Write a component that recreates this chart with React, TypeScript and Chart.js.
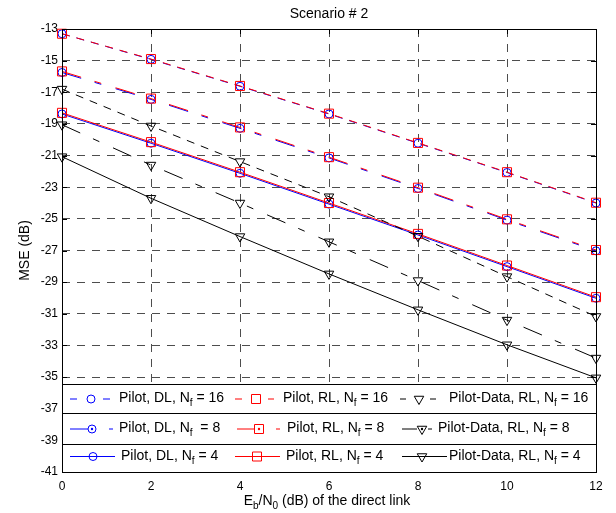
import React, { useEffect, useRef } from "react";
import { Chart, registerables } from "chart.js";

Chart.register(...registerables);

// ---- data ----
const SNR_DB = [0, 2, 4, 6, 8, 10, 12];
const Y_TICKS = [-41, -39, -37, -35, -33, -31, -29, -27, -25, -23, -21, -19, -17, -15, -13];
const X_TICKS = [0, 2, 4, 6, 8, 10, 12];

const PILOT_DL_NF16 = [-13.3, -14.92, -16.62, -18.37, -20.22, -22.07, -24.0];
const PILOT_RL_NF16 = [-13.3, -14.9, -16.6, -18.35, -20.2, -22.05, -23.98];
const PILOT_DL_NF8 = [-15.75, -17.45, -19.28, -21.15, -23.08, -25.08, -27.02];
const PILOT_RL_NF8 = [-15.68, -17.4, -19.22, -21.1, -23.03, -25.03, -26.97];
const PILOT_DL_NF4 = [-18.37, -20.22, -22.12, -24.07, -26.02, -28.02, -30.02];
const PILOT_RL_NF4 = [-18.3, -20.15, -22.05, -24.0, -25.95, -27.95, -29.95];
const PD_RL_NF16 = [-16.8, -19.13, -21.38, -23.6, -26.1, -28.65, -31.17];
const PD_RL_NF8 = [-19.05, -21.6, -24.0, -26.45, -28.9, -31.4, -33.8];
const PD_RL_NF4 = [-21.07, -23.7, -26.12, -28.48, -30.75, -32.96, -35.05];

const TITLE = "Scenario # 2";
const Y_TITLE = "MSE (dB)";

const FONT = '"Liberation Sans", Arial, Helvetica, sans-serif';
const BLUE = "#0000ff";
const RED = "#ff0000";
const BLACK = "#000000";
const DASH16 = [8, 7];
const DASH8 = [20, 14, 7, 15];

type Part = { t: string; sub?: boolean };

function richWidth(ctx: CanvasRenderingContext2D, parts: Part[], size: number, subSize: number) {
  let w = 0;
  for (const p of parts) {
    ctx.font = `${p.sub ? subSize : size}px ${FONT}`;
    w += ctx.measureText(p.t).width;
  }
  return w;
}

function drawRich(ctx: CanvasRenderingContext2D, parts: Part[], x: number, y: number, size = 12, subSize = 9, subOff = 4) {
  ctx.save();
  ctx.fillStyle = "#000";
  ctx.textBaseline = "alphabetic";
  ctx.textAlign = "left";
  let cx = x;
  for (const p of parts) {
    ctx.font = `${p.sub ? subSize : size}px ${FONT}`;
    ctx.fillText(p.t, cx, p.sub ? y + subOff : y);
    cx += ctx.measureText(p.t).width;
  }
  ctx.restore();
}

function drawMarker(ctx: CanvasRenderingContext2D, kind: string, x: number, y: number, color: string, dot: boolean) {
  ctx.save();
  ctx.strokeStyle = color;
  ctx.lineWidth = 1;
  ctx.setLineDash([]);
  ctx.beginPath();
  if (kind === "circle") {
    ctx.arc(x, y, 4, 0, Math.PI * 2);
  } else if (kind === "rect") {
    ctx.rect(x - 4.5, y - 4.5, 9, 9);
  } else {
    const r = 5.5;
    for (let i = 0; i < 3; i++) {
      const a = Math.PI + (i * 2 * Math.PI) / 3;
      const px = x + Math.sin(a) * r;
      const py = y - Math.cos(a) * r;
      if (i === 0) ctx.moveTo(px, py);
      else ctx.lineTo(px, py);
    }
    ctx.closePath();
  }
  ctx.stroke();
  if (dot) {
    ctx.fillStyle = color;
    ctx.beginPath();
    ctx.arc(x, y, 1.2, 0, Math.PI * 2);
    ctx.fill();
  }
  ctx.restore();
}

type LegendItem = {
  segs: [number, number][];
  mx: number;
  marker: string;
  color: string;
  dot: boolean;
  tx: number;
  text: Part[];
};

const nf = (pre: string, post: string): Part[] => [{ t: pre }, { t: "f", sub: true }, { t: post }];

const LEGEND_ROWS: { top: number; bottom: number; base: number; lineY: number; items: LegendItem[] }[] = [
  {
    top: 384, bottom: 413, base: 402, lineY: 398.5,
    items: [
      { segs: [[70, 77], [103, 110]], mx: 91, marker: "circle", color: BLUE, dot: false, tx: 119, text: nf("Pilot, DL, N", " = 16") },
      { segs: [[235, 242], [268, 274]], mx: 256, marker: "rect", color: RED, dot: false, tx: 283, text: nf("Pilot, RL, N", " = 16") },
      { segs: [[400, 406], [430, 436]], mx: 419, marker: "tri", color: BLACK, dot: false, tx: 449, text: nf("Pilot-Data, RL, N", " = 16") },
    ],
  },
  {
    top: 413, bottom: 444, base: 432, lineY: 428.5,
    items: [
      { segs: [[70, 88], [109, 113]], mx: 92, marker: "circle", color: BLUE, dot: true, tx: 119, text: nf("Pilot, DL, N", "  = 8") },
      { segs: [[237, 255], [276, 280]], mx: 259, marker: "rect", color: RED, dot: true, tx: 287, text: nf("Pilot, RL, N", " = 8") },
      { segs: [[402, 417], [428, 432]], mx: 422, marker: "tri", color: BLACK, dot: true, tx: 438, text: nf("Pilot-Data, RL, N", " = 8") },
    ],
  },
  {
    top: 444, bottom: 472, base: 460, lineY: 456,
    items: [
      { segs: [[70, 115]], mx: 93, marker: "circle", color: BLUE, dot: false, tx: 121, text: nf("Pilot, DL, N", " = 4") },
      { segs: [[235, 280]], mx: 257, marker: "rect", color: RED, dot: false, tx: 286, text: nf("Pilot, RL, N", " = 4") },
      { segs: [[402, 447]], mx: 422, marker: "tri", color: BLACK, dot: false, tx: 449, text: nf("Pilot-Data, RL, N", " = 4") },
    ],
  },
];

const decorPlugin = {
  id: "decor",
  afterDatasetsDraw(chart: any) {
    const ctx: CanvasRenderingContext2D = chart.ctx;
    const a = chart.chartArea;
    const xs = chart.scales.x;
    const ys = chart.scales.y;
    ctx.save();
    ctx.strokeStyle = "#000";
    ctx.lineWidth = 1;
    ctx.setLineDash([]);
    // inward tick marks
    ctx.beginPath();
    for (const v of Y_TICKS) {
      const py = Math.round(ys.getPixelForValue(v)) + 0.5;
      ctx.moveTo(a.left, py);
      ctx.lineTo(a.left + 5, py);
      ctx.moveTo(a.right, py);
      ctx.lineTo(a.right - 5, py);
    }
    for (const v of X_TICKS) {
      const px = Math.round(xs.getPixelForValue(v)) + 0.5;
      ctx.moveTo(px, a.top);
      ctx.lineTo(px, a.top + 5);
      ctx.moveTo(px, a.bottom);
      ctx.lineTo(px, a.bottom - 5);
    }
    ctx.stroke();

    // legend
    const L = Math.round(a.left) + 0.5;
    const R = Math.round(a.right) + 0.5;
    for (const row of LEGEND_ROWS) {
      ctx.fillStyle = "#fff";
      ctx.fillRect(L, row.top, R - L, row.bottom - row.top);
      ctx.strokeStyle = "#000";
      ctx.lineWidth = 1;
      ctx.setLineDash([]);
      ctx.strokeRect(L, row.top + 0.5, R - L, row.bottom - row.top);
      for (const it of row.items) {
        ctx.strokeStyle = it.color;
        ctx.beginPath();
        for (const [s, e] of it.segs) {
          ctx.moveTo(s, row.lineY + 0.5);
          ctx.lineTo(e, row.lineY + 0.5);
        }
        ctx.stroke();
        drawMarker(ctx, it.marker, it.mx, row.lineY + 0.5, it.color, it.dot);
        drawRich(ctx, it.text, it.tx, row.base, 14, 10, 4);
      }
    }

    // frame
    ctx.strokeStyle = "#000";
    ctx.lineWidth = 1;
    ctx.strokeRect(L, Math.round(a.top) + 0.5, R - L, Math.round(a.bottom) - Math.round(a.top));
    ctx.restore();

    // titles
    ctx.save();
    ctx.fillStyle = "#000";
    ctx.font = `14px ${FONT}`;
    ctx.textAlign = "center";
    ctx.textBaseline = "alphabetic";
    ctx.fillText(TITLE, (a.left + a.right) / 2, 18);
    ctx.translate(29, (a.top + a.bottom) / 2);
    ctx.rotate(-Math.PI / 2);
    ctx.fillText(Y_TITLE, 0, 0);
    ctx.restore();

    const xt: Part[] = [{ t: "E" }, { t: "b", sub: true }, { t: "/N" }, { t: "0", sub: true }, { t: " (dB) of the direct link" }];
    const w = richWidth(ctx, xt, 14, 10);
    drawRich(ctx, xt, (a.left + a.right) / 2 - w / 2 - 2, 505, 14, 10, 4);
  },
};

function mk(label: string, vals: number[], color: string, dash: number[], style: string, radius: number) {
  return {
    label,
    data: SNR_DB.map((x, i) => ({ x, y: vals[i] })),
    borderColor: color,
    backgroundColor: "rgba(0,0,0,0)",
    borderWidth: 1,
    borderDash: dash,
    pointStyle: style,
    pointRadius: radius,
    pointHoverRadius: radius,
    pointBorderColor: color,
    pointBackgroundColor: "rgba(0,0,0,0)",
    pointBorderWidth: 1,
    pointRotation: style === "triangle" ? 180 : 0,
    tension: 0,
    fill: false,
    clip: false as any,
  };
}

export default function App() {
  const ref = useRef<HTMLCanvasElement | null>(null);
  useEffect(() => {
    if (!ref.current) return;
    const chart = new Chart(ref.current, {
      type: "line",
      data: {
        datasets: [
          mk("Pilot-Data, RL, Nf = 4", PD_RL_NF4, BLACK, [], "triangle", 5.5),
          mk("Pilot-Data, RL, Nf = 8", PD_RL_NF8, BLACK, DASH8, "triangle", 5.5),
          mk("Pilot-Data, RL, Nf = 16", PD_RL_NF16, BLACK, DASH16, "triangle", 5.5),
          mk("Pilot, RL, Nf = 4", PILOT_RL_NF4, RED, [], "rect", 6.4),
          mk("Pilot, RL, Nf = 8", PILOT_RL_NF8, RED, DASH8, "rect", 6.4),
          mk("Pilot, RL, Nf = 16", PILOT_RL_NF16, RED, DASH16, "rect", 6.4),
          mk("Pilot, DL, Nf = 4", PILOT_DL_NF4, BLUE, [], "circle", 4),
          mk("Pilot, DL, Nf = 8", PILOT_DL_NF8, BLUE, DASH8, "circle", 4),
          mk("Pilot, DL, Nf = 16", PILOT_DL_NF16, BLUE, DASH16, "circle", 4),
        ] as any,
      },
      options: {
        responsive: false,
        animation: false,
        events: [],
        layout: { padding: { left: 0, right: 20, top: 29, bottom: 0 } },
        plugins: { legend: { display: false }, tooltip: { enabled: false }, title: { display: false } },
        scales: {
          x: {
            type: "linear",
            min: 0,
            max: 12,
            afterFit: (s: any) => { s.height = 41; },
            afterBuildTicks: (s: any) => { s.ticks = X_TICKS.map((v) => ({ value: v })); },
            ticks: { color: "#000", font: { family: FONT, size: 12 }, padding: 7, maxRotation: 0, autoSkip: false },
            grid: { color: "#4d4d4d", lineWidth: 1, drawTicks: false },
            border: { display: false, dash: [8, 7] },
          },
          y: {
            type: "linear",
            min: -41,
            max: -13,
            afterFit: (s: any) => { s.width = 62; },
            afterBuildTicks: (s: any) => { s.ticks = Y_TICKS.map((v) => ({ value: v })); },
            ticks: { color: "#000", font: { family: FONT, size: 12 }, padding: 4, autoSkip: false },
            grid: { color: "#4d4d4d", lineWidth: 1, drawTicks: false },
            border: { display: false, dash: [8, 7] },
          },
        },
      },
      plugins: [decorPlugin],
    });
    return () => chart.destroy();
  }, []);
  return (
    <div style={{ position: "fixed", left: 0, top: 0, width: 616, height: 513, background: "#fff" }}>
      <canvas ref={ref} width={616} height={513} style={{ display: "block" }} />
    </div>
  );
}
